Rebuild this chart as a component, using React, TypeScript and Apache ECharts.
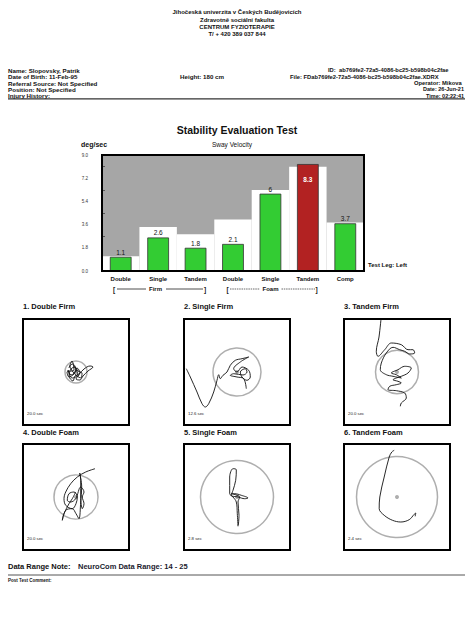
import React, { useEffect, useRef } from "react";
import * as echarts from "echarts";

// ---------- data ----------
const categories = ["Double", "Single", "Tandem", "Double", "Single", "Tandem", "Comp"];
const swayVelocity = [1.1, 2.6, 1.8, 2.1, 6, 8.3, 3.7];
const normalLimit = [1.14, 3.42, 2.85, 3.99, 6.28, 8.09, 3.76];
const yMin = 0;
const yMax = 9;
const yInterval = 1.8;

const headerLines = [
  "Jihočeská univerzita v Českých Budějovicích",
  "Zdravotně sociální fakulta",
  "CENTRUM FYZIOTERAPIE",
  "T/ + 420 389 037 844",
];
const patientLeft = [
  "Name: Slopovsky, Patrik",
  "Date of Birth: 11-Feb-95",
  "Referral Source: Not Specified",
  "Position: Not Specified",
  "Injury History:",
];
const patientMiddle = "Height: 180 cm";
const patientRight = [
  "ID:  ab769fe2-72a5-4086-bc25-b598b04c2fae",
  "File: FDab769fe2-72a5-4086-bc25-b598b04c2fae.XDRX",
  "Operator: Mikova",
  "Date: 26-Jun-21",
  "Time: 02:22:41",
];

const panelTitles = ["1. Double Firm", "2. Single Firm", "3. Tandem Firm", "4. Double Foam", "5. Single Foam", "6. Tandem Foam"];
const panelTimes = ["20.0 sec", "12.6 sec", "20.0 sec", "20.0 sec", "2.8 sec", "2.4 sec"];
const panelCircleRadius = [11, 24, 21.5, 22, 36.5, 40.5];

const trace1 = [
  [-7, -4], [-4, -11], [-2, -2], [-9, 0], [-7, 5], [-2, 2], [1, -4], [4, 1], [0, 7], [4, 8], [7, 4],
  [12, -1], [17, -5], [14, -6], [8, -3], [3, 2], [-1, 4], [-3, 9], [-7, 4], [-5, -3], [-1, -5], [2, -1],
  [6, 1], [5, 6], [1, 4], [-3, 0], [-6, -6], [-3, -8], [0, -2], [-5, 3], [-8, -2], [-4, 6], [2, 3], [-2, -6],
];
const trace2 = [
  [-50.7, -3.3], [-46.7, 5], [-40, 20], [-35, 31.7], [-31.7, 35], [-28.3, 31.7], [-23.3, 20], [-20, 8.3],
  [-18.3, 2.7], [-16.7, 6.7], [-14, 3.3], [-10, 0], [-6.7, -6.7], [-1.7, -11.7], [5, -13.3], [11.7, -15],
  [3.3, -10], [-3.3, -3.3], [0, 0], [5, -5], [11.7, -1.7], [13.3, 5], [10, 8.3], [5, 5], [3.3, 0],
  [8.3, -3.3], [10, 0], [6, 3], [-3.3, 1.7], [-6.7, 3.3], [0, 5], [6.7, 6.7], [9.3, 16.7],
];
const trace3 = [
  [-15.7, -56], [-18, -35], [-20.7, -20.7], [-19, -15.7], [-12.3, -22.3], [-5.7, -29], [4.3, -27.3],
  [11, -22.3], [16, -22.3], [17.7, -19], [12.7, -18], [7.7, -20.7], [2.7, -22.3], [-4, -24.7],
  [-10.7, -19], [-15.7, -9], [-16.7, -2.3], [-10.7, 2.7], [-4, 4.3], [4.3, 6], [-0.7, 2.7], [-5.7, 1],
  [1, -2.3], [7.7, -5.7], [14.3, -4], [11, 1], [4.3, 4.3], [-0.7, 6], [-4, 7.7], [1, 9.3], [4.3, 11],
  [-0.7, 12.7], [-7.3, 14.3], [-9, 17.7], [-0.7, 18.7], [7.7, 21], [9.3, 26], [4.3, 31], [3.3, 34.3],
];
const trace4 = [
  [19, -28.3], [9.7, -25], [1.3, -20], [-5.3, -13.3], [-10.3, -5], [-12, 1.7], [-10.3, 8.3], [-3.7, 11.7],
  [0, 6.7], [1.3, 0], [-2, -5], [-7, -3.3], [-8.7, 3.3], [-5.3, 5], [-0.3, 1.7], [4.7, -10], [8, -5],
  [6.3, 0], [8, 6.7], [6.3, 11.7], [4.7, 0], [4.7, -16.7], [3.7, -24], [5.7, -10], [4.7, 5], [3, 21.7],
  [0, 16.7], [-3.7, 11.7], [-10.3, 13.3], [-13.7, 23.3], [-12, 16.7], [-7, 6.7], [-3.7, 1.7], [-0.3, -5],
];
const trace5 = [
  [1, 29.3], [0.3, 16.7], [-0.7, 5], [-4, 0], [-7.3, -3.3], [-7.3, -20], [-4, -28.3], [-0.7, -27.3],
  [-1.3, -16.7], [-4, -6.7], [-5.7, -1.7], [1, 0], [7.7, 1.7], [11, 1], [4.3, -1.7], [-2.3, -3.3],
  [-5.7, -3.3], [2.7, 0], [1, 5], [2, 18.3], [1.3, 28.3],
];
const trace6 = [
  [-2.8, -46.7], [-5.2, -45], [-7.8, -40], [-12.8, -20], [-17.2, 0], [-17.8, 11.7], [-12.8, 18.3],
  [-4.5, 23.3], [3.8, 25], [12.2, 22.7], [17.2, 17.3], [18.8, 16], [18.2, 19.3],
];
const traces = [trace1, trace2, trace3, trace4, trace5, trace6];

// ---------- layout ----------
const FONT = "'Liberation Sans', Arial, sans-serif";
const barGrid = { left: 102, top: 155, width: 262, height: 116 };
const panelBoxes = [
  [23, 319], [184, 319], [344, 319],
  [23, 444], [184, 444], [344, 444],
];
const PANEL = 106;
const HALF = 53;

function txt(text: string, x: number, y: number, size: number, opts: any = {}) {
  const align = opts.align || "left";
  return {
    type: "text",
    z: 100,
    silent: true,
    style: {
      text,
      x,
      y,
      fontSize: size,
      fontWeight: opts.bold ? "bold" : "normal",
      fontFamily: FONT,
      fill: opts.color || "#111",
      align,
      textAlign: align,
      verticalAlign: "middle",
      textVerticalAlign: "middle",
    },
  };
}

function hline(x1: number, x2: number, y: number, w: number, color: string, dash?: number[]) {
  return {
    type: "line",
    z: 100,
    silent: true,
    shape: { x1, y1: y, x2, y2: y },
    style: { stroke: color, lineWidth: w, lineDash: dash || null },
  };
}

function box(x: number, y: number, w: number, h: number) {
  return {
    type: "rect",
    z: 100,
    silent: true,
    shape: { x, y, width: w, height: h },
    style: { fill: "none", stroke: "#000", lineWidth: 2 },
  };
}

function buildOption() {
  const graphics: any[] = [];
  const headerY = [12.3, 19.7, 27, 34.3];
  headerLines.forEach((t, i) => graphics.push(txt(t, 237, headerY[i], 6, { bold: true, align: "center" })));
  const infoY = [70.3, 76.7, 83, 89.3, 95.7];
  patientLeft.forEach((t, i) => graphics.push(txt(t, 8, infoY[i], 6.2, { bold: true })));
  graphics.push(txt(patientMiddle, 180, infoY[1], 6.2, { bold: true }));
  const rightX = [328, 290, 414, 423, 426];
  const rightSize = [5.8, 5.8, 5.8, 5.5, 5.5];
  patientRight.forEach((t, i) => graphics.push(txt(t, rightX[i], infoY[i], rightSize[i], { bold: true })));
  graphics.push(hline(8, 465, 98.8, 1.2, "#333"));

  graphics.push(txt("Stability Evaluation Test", 237, 130, 10.5, { bold: true, align: "center" }));
  graphics.push(txt("deg/sec", 81, 144, 7, { bold: true }));
  graphics.push(txt("Sway Velocity", 232, 144, 6.5, { align: "center" }));
  graphics.push(txt("Test Leg: Left", 368, 265, 6, { bold: true }));

  // Firm / Foam brackets
  graphics.push(txt("[", 113, 289, 6.5, { bold: true }));
  graphics.push(hline(117, 146, 289, 0.8, "#222"));
  graphics.push(txt("Firm", 155.5, 289, 6, { bold: true, align: "center" }));
  graphics.push(hline(166, 203, 289, 0.8, "#222"));
  graphics.push(txt("]", 204, 289, 6.5, { bold: true }));
  graphics.push(txt("[", 226.5, 289, 6.5, { bold: true }));
  graphics.push(hline(230, 260, 289, 0.8, "#444", [1.5, 0.8]));
  graphics.push(txt("Foam", 270.5, 289, 6, { bold: true, align: "center" }));
  graphics.push(hline(281.5, 315, 289, 0.8, "#444", [1.5, 0.8]));
  graphics.push(txt("]", 315.5, 289, 6.5, { bold: true }));

  graphics.push(box(barGrid.left, barGrid.top, barGrid.width, barGrid.height));

  panelBoxes.forEach(([x, y], i) => {
    const titleY = y < 400 ? 306.7 : 432;
    graphics.push(txt(panelTitles[i], x, titleY, 7.5, { bold: true }));
    graphics.push(txt(panelTimes[i], x + 4, y + PANEL - 11.5, 4.3, { color: "#222" }));
    graphics.push(box(x, y, PANEL, PANEL));
  });

  graphics.push(txt("Data Range Note:", 8, 566.7, 7.5, { bold: true }));
  graphics.push(txt("NeuroCom Data Range: 14 - 25", 78, 566.7, 7.5, { bold: true, color: "#1b1b2e" }));
  graphics.push(hline(8, 465, 575, 1, "#555"));
  graphics.push(txt("Post Test Comment:", 8, 580.5, 4.5, { bold: true }));

  const grids: any[] = [
    { ...barGrid, show: true, backgroundColor: "#a6a6a6", borderWidth: 0 },
    ...panelBoxes.map(([x, y]) => ({ left: x, top: y, width: PANEL, height: PANEL, show: false })),
  ];

  const xAxes: any[] = [
    {
      gridIndex: 0,
      type: "category",
      data: categories,
      axisLine: { show: false },
      axisTick: { show: false },
      axisLabel: { fontSize: 6, fontWeight: "bold", color: "#111", margin: 5, fontFamily: FONT },
    },
    { gridIndex: 0, type: "category", data: categories, show: false },
    ...panelBoxes.map((_, i) => ({ gridIndex: i + 1, type: "value", min: -HALF, max: HALF, show: false })),
  ];
  const yAxes: any[] = [
    {
      gridIndex: 0,
      type: "value",
      min: yMin,
      max: yMax,
      interval: yInterval,
      axisLine: { show: false },
      axisTick: { show: false, inside: true },
      minorTick: { show: true, splitNumber: 2, length: 3, lineStyle: { color: "#444", width: 0.8 } },
      splitLine: { show: false },
      axisLabel: {
        fontSize: 4.5,
        color: "#333",
        margin: 14,
        fontFamily: FONT,
        formatter: (v: number) => v.toFixed(1),
      },
    },
    ...panelBoxes.map((_, i) => ({ gridIndex: i + 1, type: "value", min: -HALF, max: HALF, inverse: true, show: false })),
  ];

  const series: any[] = [
    {
      type: "bar",
      xAxisIndex: 1,
      yAxisIndex: 0,
      barWidth: "100%",
      silent: true,
      itemStyle: { color: "#ffffff" },
      data: normalLimit,
      z: 1,
    },
    {
      type: "bar",
      xAxisIndex: 0,
      yAxisIndex: 0,
      barWidth: "58%",
      z: 2,
      itemStyle: { color: "#33cc33", borderColor: "#333", borderWidth: 0.8 },
      label: {
        show: true,
        position: "top",
        distance: 1,
        fontSize: 6.5,
        color: "#111",
        fontFamily: FONT,
        formatter: (p: any) => String(p.value),
      },
      data: swayVelocity.map((v, i) =>
        v > normalLimit[i]
          ? {
              value: v,
              itemStyle: { color: "#b22222" },
              label: { position: "insideTop", distance: 12, color: "#fff", fontWeight: "bold" },
            }
          : v
      ),
    },
  ];

  traces.forEach((tr, i) => {
    series.push({
      type: "scatter",
      xAxisIndex: i + 2,
      yAxisIndex: i + 1,
      silent: true,
      symbol: "circle",
      symbolSize: panelCircleRadius[i] * 2,
      itemStyle: { color: "rgba(0,0,0,0)", borderColor: "#9a9a9a", borderWidth: 1.5 },
      data: [[0, 0]],
      z: 2,
    });
    series.push({
      type: "scatter",
      xAxisIndex: i + 2,
      yAxisIndex: i + 1,
      silent: true,
      symbol: "circle",
      symbolSize: 4,
      itemStyle: { color: "#9a9a9a" },
      data: [[0, 0]],
      z: 2,
    });
    series.push({
      type: "line",
      xAxisIndex: i + 2,
      yAxisIndex: i + 1,
      silent: true,
      showSymbol: false,
      smooth: 0.35,
      clip: true,
      lineStyle: { color: "#111", width: 0.9 },
      data: tr,
      z: 3,
    });
  });

  return {
    animation: false,
    backgroundColor: "#ffffff",
    textStyle: { fontFamily: FONT },
    grid: grids,
    xAxis: xAxes,
    yAxis: yAxes,
    series,
    graphic: graphics,
  };
}

export default function App() {
  const ref = useRef<HTMLDivElement>(null);
  useEffect(() => {
    const chart = echarts.init(ref.current as HTMLDivElement, null, { renderer: "svg" });
    chart.setOption(buildOption() as any);
    return () => chart.dispose();
  }, []);
  return (
    <div
      ref={ref}
      style={{ position: "absolute", left: 0, top: 0, width: 465, height: 620, background: "#fff" }}
    />
  );
}
